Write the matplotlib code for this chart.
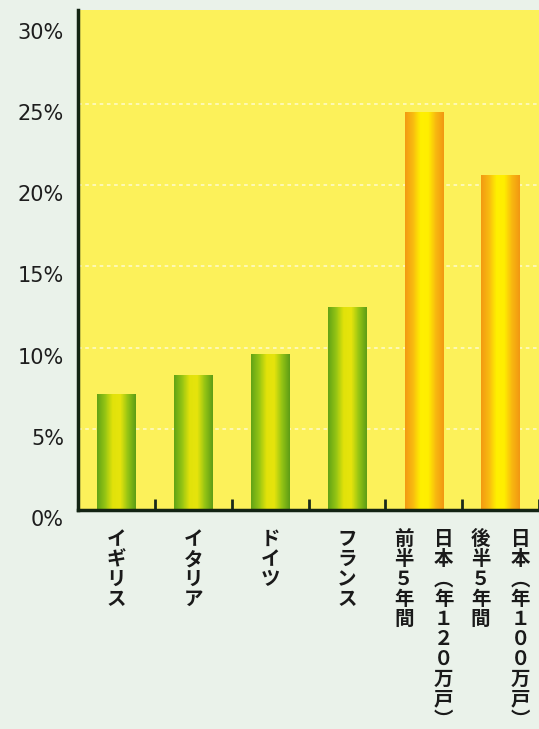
import matplotlib.pyplot as plt
import numpy as np
from matplotlib.colors import LinearSegmentedColormap
from matplotlib import transforms

plt.rcParams['font.family'] = ['Noto Sans CJK JP', 'DejaVu Sans']

# data
countries = ["イギリス", "イタリア", "ドイツ", "フランス",
             "日本(年120万戸)前半5年間", "日本(年100万戸)後半5年間"]
label_columns = [
    ["イギリス"],
    ["イタリア"],
    ["ドイツ"],
    ["フランス"],
    ["日本︵年１２０万戸︶", "前半５年間"],
    ["日本︵年１００万戸︶", "後半５年間"],
]
values = [7.1, 8.3, 9.6, 12.5, 24.5, 20.6]
is_japan = [False, False, False, False, True, True]
yticks = [0, 5, 10, 15, 20, 25, 30]
ytick_labels = ["0%", "5%", "10%", "15%", "20%", "25%", "30%"]

green_cmap = LinearSegmentedColormap.from_list(
    "g", ["#62a416", "#94c414", "#e2e20a", "#e6e40c", "#94c414", "#5e9e16"])
orange_cmap = LinearSegmentedColormap.from_list(
    "o", ["#f39a12", "#f8bb10", "#fff000", "#ffee00", "#f8b810", "#f29812"])

fig = plt.figure(figsize=(5.39, 7.29), dpi=100)
fig.patch.set_facecolor("#eaf2ea")
ax = fig.add_axes([78 / 539, 219 / 729, 461 / 539, 500 / 729])
ax.set_facecolor("#fcf15a")

bar_w = 0.5
grad = np.linspace(0, 1, 64).reshape(1, -1)
for i, (v, jp) in enumerate(zip(values, is_japan)):
    ax.imshow(grad, extent=(i - bar_w / 2, i + bar_w / 2, 0, v),
              cmap=orange_cmap if jp else green_cmap, aspect="auto",
              zorder=2, interpolation="bilinear")

ax.set_xlim(-0.5, 5.45)
ax.set_ylim(0, 30.8)

for y in yticks[1:-1]:
    ax.axhline(y, color="white", alpha=0.6, linestyle=(0, (2, 2)),
               linewidth=1.3, zorder=1)

ax.set_yticks(yticks)
ax.set_yticklabels(ytick_labels, fontsize=15, color="#1e1e1e",
                   family=["DejaVu Sans"])
ax.tick_params(axis="y", length=0, pad=10)
off = transforms.ScaledTranslation(0, -8 / 100, fig.dpi_scale_trans)
for lab in ax.get_yticklabels():
    lab.set_transform(lab.get_transform() + off)

ax.set_xticks(np.arange(len(values)) + 0.5, minor=False)
ax.set_xticklabels([])
ax.tick_params(axis="x", direction="in", length=8, width=2,
               color="#1a2a1a")

for s in ["top", "right"]:
    ax.spines[s].set_visible(False)
for s in ["left", "bottom"]:
    ax.spines[s].set_linewidth(2.5)
    ax.spines[s].set_color("#142414")
    ax.spines[s].set_zorder(5)

trans = transforms.blended_transform_factory(ax.transData, fig.transFigure)
col_gap = 0.52
for i, cols in enumerate(label_columns):
    n = len(cols)
    for j, col in enumerate(cols):
        dx = (n - 1) * col_gap / 2 - j * col_gap
        ax.text(i + dx, 1 - 530 / 729, "\n".join(col), transform=trans,
                ha="center", va="top", fontsize=14, linespacing=1.07,
                color="#1a1a1a", fontweight="bold")

fig.savefig("out.png", dpi=100, facecolor=fig.get_facecolor())
